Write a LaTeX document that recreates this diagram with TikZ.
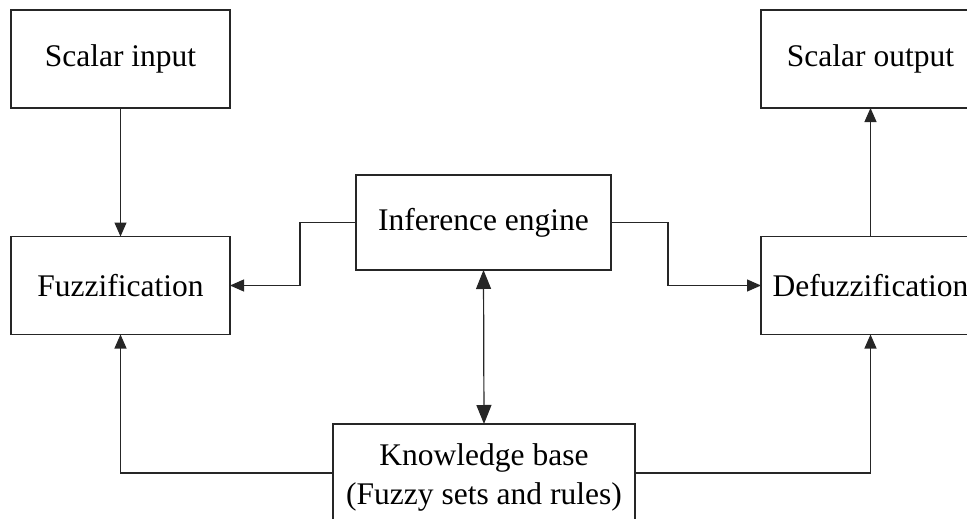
\documentclass[tikz,border=0pt]{standalone}
\usepackage{fontspec}
\setmainfont{Liberation Serif}
\usetikzlibrary{arrows.meta}

\begin{document}
\begin{tikzpicture}[x=1pt,y=-1pt,
  blk/.style={draw=black!85, line width=1.2pt, inner sep=0pt, outer sep=0pt,
    minimum width=219pt, minimum height=98pt, align=center,
    font=\fontsize{31.5}{39}\selectfont},
  conn/.style={draw=black!85, line width=1.2pt, -{Triangle[length=14pt,width=12pt]}},
  both/.style={draw=black!85, line width=1.2pt,
    {Triangle[length=19pt,width=15pt]}-{Triangle[length=19pt,width=15pt]}}
]
\useasboundingbox (0,0) rectangle (967,519);

% blocks
\node[blk] (sin)   at (120.5,59)    {Scalar input};
\node[blk] (fuz)   at (120.5,285.5) {Fuzzification};
\node[blk] (sout)  at (870.5,59)    {Scalar output};
\node[blk] (defuz) at (870.5,285.5) {Defuzzification};
\node[blk, minimum width=255pt, minimum height=95pt] (inf) at (483.5,222.5) {Inference engine};
\node[blk, minimum width=302pt, minimum height=106pt] (kb) at (484,477)
  {Knowledge base\\(Fuzzy sets and rules)};

% connectors
\draw[conn] (sin.south) -- (fuz.north);
\draw[conn] (defuz.north) -- (sout.south);
\draw[conn] (inf.west) -- ++(-56,0) |- (fuz.east);
\draw[conn] (inf.east) -- ++(57,0) |- (defuz.west);
\draw[both] (inf.south) -- (kb.north);
\draw[conn] ([yshift=4pt]kb.west) -| (fuz.south);
\draw[conn] ([yshift=4pt]kb.east) -| (defuz.south);
\end{tikzpicture}
\end{document}
